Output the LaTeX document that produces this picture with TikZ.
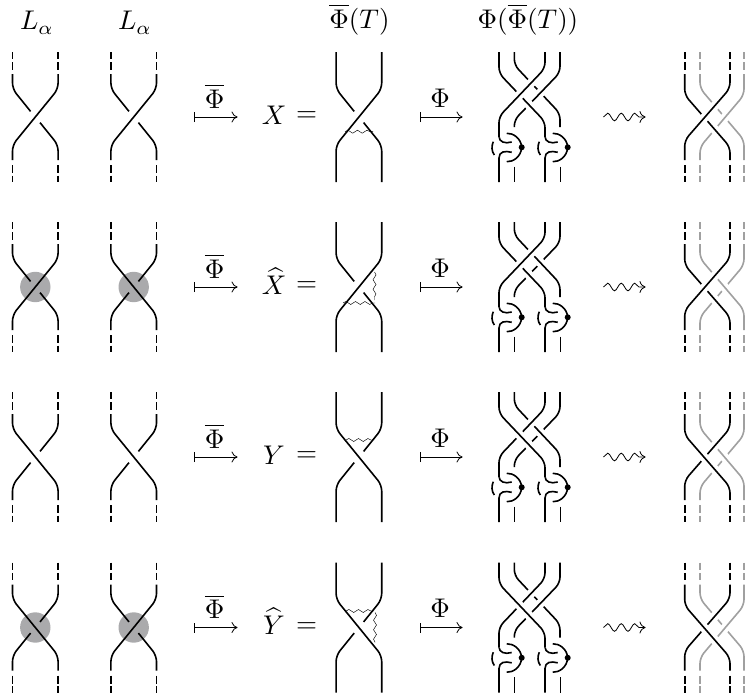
\documentclass[tikz,border=0pt]{standalone}
\usepackage{amsmath}
\usetikzlibrary{arrows.meta,decorations.pathmorphing}
\definecolor{diskgrey}{RGB}{170,170,172}
\definecolor{strandgrey}{RGB}{160,160,160}
\tikzset{
  lbl/.style={scale=2.7,inner sep=0pt,anchor=base},
  strand/.style={line width=1.6pt,rounded corners=6pt,black},
  gstrand/.style={line width=1.6pt,rounded corners=6pt,strandgrey},
  casing/.style={line width=9pt,rounded corners=6pt,white},
  wave/.style={line width=0.45pt,decorate,decoration={snake,segment length=9.5pt,amplitude=1.5pt}},
  mapsarrow/.style={line width=0.8pt,{Bar[width=10pt,line width=0.8pt]}-{Computer Modern Rightarrow[width=11pt,length=6pt,line width=0.8pt]}},
  squig/.style={line width=0.8pt,-{Computer Modern Rightarrow[width=12pt,length=6pt,line width=0.8pt]},decorate,decoration={snake,segment length=13.5pt,amplitude=3.8pt,post length=1pt}},
}
% crossing, bottom-left to top-right strand on top
\newcommand{\crossX}[3]{\begin{scope}[shift={(#1,#2)}]
  \draw[strand] (22.8,-#3)--(22.8,-28)--(-22.8,28)--(-22.8,#3);
  \draw[strand] (-22.8,-#3)--(-22.8,-28)--(-4.7,-5.6);
  \draw[strand] (4.7,5.6)--(22.8,28)--(22.8,#3);
\end{scope}}
% crossing, top-left to bottom-right strand on top
\newcommand{\crossY}[3]{\begin{scope}[shift={(#1,#2)}]
  \draw[strand] (-22.8,-#3)--(-22.8,-28)--(22.8,28)--(22.8,#3);
  \draw[strand] (22.8,-#3)--(22.8,-28)--(4.7,-5.6);
  \draw[strand] (-4.7,5.6)--(-22.8,28)--(-22.8,#3);
\end{scope}}
\newcommand{\dashV}[2]{\draw[#2] (#1,-65)--(#1,-57.7) (#1,-54.7)--(#1,-47.5) (#1,48)--(#1,56) (#1,58.5)--(#1,65);}
\newcommand{\weave}[2]{\draw[casing] #2; \draw[#1] #2;}
% strands of the fourth column
\newcommand{\qA}{(499,-65)--(499,-43.7)--(545,4.7)--(545,20)}
\newcommand{\qB}{(514.3,-65)--(514.3,-52)--(560,-3.5)--(560,10)}
\newcommand{\qC}{(545,-65)--(545,-48.7)--(499,-0.4)--(499,20)}
\newcommand{\qD}{(560,-65)--(560,-44.5)--(514.3,3)--(514.3,10)}
% strands of the fifth column
\newcommand{\rA}{(684.7,-43)--(684.7,-22)--(730,30)--(730,43)}
\newcommand{\rC}{(730,-43)--(730,-28.7)--(684.7,23.3)--(684.7,43)}
\newcommand{\rB}{(700,-43)--(700,-28.7)--(744,23)--(744,43)}
\newcommand{\rD}{(744,-43)--(744,-22)--(700,30)--(700,43)}
% clasp below a strand at x
\newcommand{\clasp}[1]{\begin{scope}[shift={(#1,0)}]
  \draw[strand,rounded corners=0pt] (0,19.5) .. controls (0,25) and (6,27) .. (12.7,25);
  \draw[strand,rounded corners=0pt] (0,65)--(0,41) .. controls (0,34.5) and (6,33.5) .. (12.7,35.3);
  \draw[strand,rounded corners=0pt] (7.7,16.3) .. controls (14,16) and (22,21) .. (22.7,30.3);
  \draw[strand,rounded corners=0pt] (22.7,30.3) .. controls (22,40) and (14,45) .. (7.7,44.7);
  \draw[strand,rounded corners=0pt] (-5.7,24.7) .. controls (-7.6,29) and (-7.6,34) .. (-4.7,38);
  \draw[strand] (15.3,49.7)--(15.3,65);
  \fill (22.7,30.3) circle (3pt);
\end{scope}}
% common parts of a row
\newcommand{\rowparts}[3]{\begin{scope}[shift={(0,#2)}]
  \foreach \xx in {12.5,58,111,156.5} {\dashV{\xx}{strand}}
  \foreach \xx in {684.7,730} {\dashV{\xx}{strand}}
  \foreach \xx in {700,744} {\dashV{\xx}{gstrand}}
  \coordinate (pa#1) at (194,0); \coordinate (pb#1) at (237.5,0);
  \draw[mapsarrow] (pa#1)--(pb#1);
  \node[lbl] (bar#1) at (214.5,-9) {$\overline{\Phi}$};
  \node[lbl] (let#1) at (274,7) {$#3$};
  \node[lbl,anchor=center] (eq#1) at (306.5,0) {$=$};
  \coordinate (qa#1) at (419.5,0); \coordinate (qb#1) at (462.5,0);
  \draw[mapsarrow] (qa#1)--(qb#1);
  \node[lbl] (phi#1) at (440,-10) {$\Phi$};
  \coordinate (sa#1) at (603.5,0); \coordinate (sb#1) at (645.5,0);
  \draw[squig] (sa#1)--(sb#1);
  \clasp{499}\clasp{545}
\end{scope}}
\begin{document}
\begin{tikzpicture}[x=1pt,y=-1pt]
\useasboundingbox (0,0) rectangle (745,696);
\node[lbl] (h1) at (37,30) {$L_\alpha$};
\node[lbl] (h2) at (135,30) {$L_\alpha$};
\node[lbl] (h3) at (359.5,28) {$\overline{\Phi}(T)$};
\node[lbl] (h4) at (528,28) {$\Phi(\overline{\Phi}(T))$};
% row 1
\crossX{35.3}{117}{43}\crossX{133.7}{117}{43}\crossX{358.9}{117}{65}
\coordinate (w1a) at (345,131.7); \coordinate (w1b) at (373,131.7);
\draw[wave] (w1a)--(w1b);
\rowparts{1}{117}{X}
\begin{scope}[shift={(0,117)}]
  \weave{strand}{\qB}\weave{strand}{\qD}\weave{strand}{\qA}\weave{strand}{\qC}
  \weave{gstrand}{\rB}\weave{gstrand}{\rD}\weave{strand}{\rA}\weave{strand}{\rC}
\end{scope}
% row 2
\fill[diskgrey] (35.3,287) circle (15.2pt);
\fill[diskgrey] (133.7,287) circle (15.2pt);
\crossX{35.3}{287}{43}\crossY{133.7}{287}{43}\crossX{358.9}{287}{65}
\coordinate (w2a) at (343,303); \coordinate (w2b) at (375,303);
\draw[wave] (w2a)--(w2b);
\coordinate (w2c) at (374.5,272); \coordinate (w2d) at (374.5,300);
\draw[wave] (w2c)--(w2d);
\rowparts{2}{287}{\widehat{X}}
\begin{scope}[shift={(0,287)}]
  \weave{strand}{\qD}\weave{strand}{\qB}\weave{strand}{\qA}\weave{strand}{\qC}
  \weave{gstrand}{\rD}\weave{gstrand}{\rB}\weave{strand}{\rA}\weave{strand}{\rC}
\end{scope}
% row 3
\crossY{35.3}{457}{43}\crossY{133.7}{457}{43}\crossY{358.9}{457}{65}
\coordinate (w3a) at (346,440); \coordinate (w3b) at (374,440);
\draw[wave] (w3a)--(w3b);
\rowparts{3}{457}{Y}
\begin{scope}[shift={(0,457)}]
  \weave{strand}{\qD}\weave{strand}{\qB}\weave{strand}{\qC}\weave{strand}{\qA}
  \weave{gstrand}{\rD}\weave{gstrand}{\rB}\weave{strand}{\rC}\weave{strand}{\rA}
\end{scope}
% row 4
\fill[diskgrey] (35.3,627.5) circle (15.2pt);
\fill[diskgrey] (133.7,627.5) circle (15.2pt);
\crossY{35.3}{627.5}{43}\crossX{133.7}{627.5}{43}\crossY{358.9}{627.5}{65}
\coordinate (w4a) at (346,611); \coordinate (w4b) at (374,611);
\draw[wave] (w4a)--(w4b);
\coordinate (w4c) at (375,612.5); \coordinate (w4d) at (375,642.5);
\draw[wave] (w4c)--(w4d);
\rowparts{4}{627.5}{\widehat{Y}}
\begin{scope}[shift={(0,627.5)}]
  \weave{strand}{\qB}\weave{strand}{\qD}\weave{strand}{\qC}\weave{strand}{\qA}
  \weave{gstrand}{\rB}\weave{gstrand}{\rD}\weave{strand}{\rC}\weave{strand}{\rA}
\end{scope}
\end{tikzpicture}
\end{document}
